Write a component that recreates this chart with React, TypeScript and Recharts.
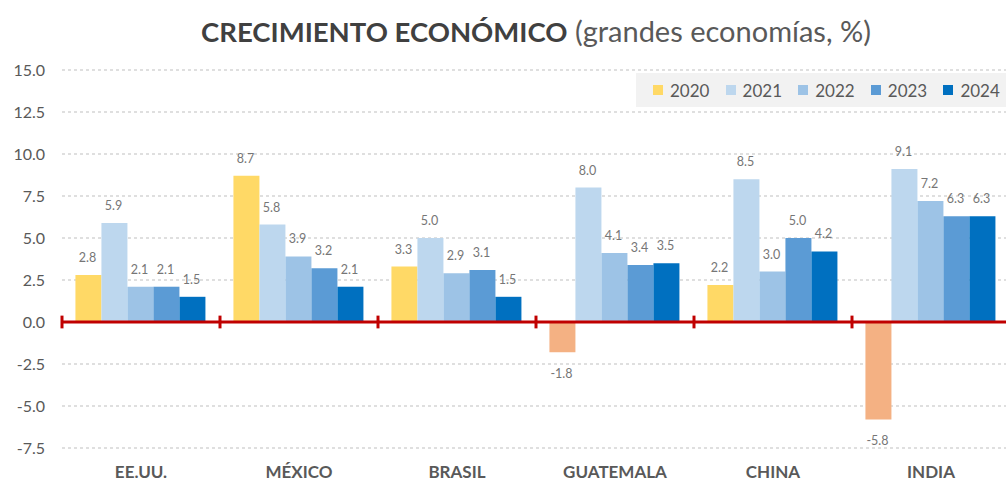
import { BarChart, Bar, XAxis, YAxis, CartesianGrid, Cell, LabelList, Legend, ReferenceLine } from "recharts"

const categories = ["EE.UU.", "MÉXICO", "BRASIL", "GUATEMALA", "CHINA", "INDIA"]
const years = ["2020", "2021", "2022", "2023", "2024"]
const g2020 = [2.8, 8.7, 3.3, -1.8, 2.2, -5.8]
const g2021 = [5.9, 5.8, 5.0, 8.0, 8.5, 9.1]
const g2022 = [2.1, 3.9, 2.9, 4.1, 3.0, 7.2]
const g2023 = [2.1, 3.2, 3.1, 3.4, 5.0, 6.3]
const g2024 = [1.5, 2.1, 1.5, 3.5, 4.2, 6.3]
const yTicks = [-7.5, -5, -2.5, 0, 2.5, 5, 7.5, 10, 12.5, 15]

const COLORS = ["#FFD966", "#BDD7EE", "#9DC3E6", "#5B9BD5", "#0070C0"]
const NEG = "#F4B183"
const FONT = "Lato, 'Open Sans', sans-serif"
const GREY = "#595959"

const series = [g2020, g2021, g2022, g2023, g2024]
const data = categories.map((name, i) => {
    const row: Record<string, string | number> = { name }
    years.forEach((y, k) => { row[y] = series[k][i] })
    return row
})

const ValueLabel = (props: any) => {
    const { x, y, width, height, value } = props
    if (value == null) return null
    const top = Math.min(y, y + height)
    const bottom = Math.max(y, y + height)
    const ty = value < 0 ? bottom + 26 : top - 13
    return (
        <text x={x + width / 2 - 1} y={ty} textAnchor="middle" fontSize={12.5} fill="#767676" fontFamily={FONT}>
            {Number(value).toFixed(1)}
        </text>
    )
}

const LegendBox = (props: any) => {
    const items = props.payload ?? []
    return (
        <div style={{ background: "#F2F2F2", height: 34, display: "flex", alignItems: "center", paddingLeft: 17, fontFamily: FONT }}>
            {items.map((it: any) => (
                <div key={it.value} style={{ display: "flex", alignItems: "center", width: 74 }}>
                    <span style={{ width: 10, height: 10, background: it.color, marginRight: 7, display: "inline-block" }} />
                    <span style={{ fontSize: 17, color: GREY }}>{it.value}</span>
                </div>
            ))}
        </div>
    )
}

export default function App() {
    return (
        <div style={{ position: "absolute", left: 0, top: 0, width: 1006, height: 484, overflow: "hidden", background: "#fff" }}>
            <div style={{ position: "absolute", left: 62, top: 13, width: 948, textAlign: "center", fontFamily: FONT, lineHeight: "36px", whiteSpace: "nowrap" }}>
                <span style={{ fontWeight: 700, color: "#404040", fontSize: 27.5 }}>CRECIMIENTO ECONÓMICO</span>
                <span style={{ color: GREY, fontSize: 29 }}> (grandes economías, %)</span>
            </div>
            <BarChart width={1010} height={484} data={data} margin={{ top: 70, right: 0, left: 0, bottom: 0 }} barCategoryGap="8.5%" barGap={0}>
                <CartesianGrid vertical={false} stroke="#BFBFBF" strokeDasharray="3 3" />
                <XAxis dataKey="name" axisLine={false} tickLine={false} height={36} tickMargin={12}
                    tick={{ fontSize: 17, fontWeight: 700, fill: GREY, fontFamily: FONT }} />
                <YAxis domain={[-7.5, 15]} ticks={yTicks} width={62} axisLine={false} tickLine={false} tickMargin={11}
                    tickFormatter={(v: number) => v.toFixed(1)} tick={{ fontSize: 16, fill: GREY, fontFamily: FONT }} />
                <Legend layout="horizontal" verticalAlign="middle" align="center" content={<LegendBox />}
                    wrapperStyle={{ position: "absolute", top: 73, left: 636, width: 380 }} />
                {years.map((y, k) => (
                    <Bar key={y} dataKey={y} name={y} fill={COLORS[k]} isAnimationActive={false}>
                        {k === 0 && data.map((d, i) => (
                            <Cell key={i} fill={(d[y] as number) < 0 ? NEG : COLORS[0]} />
                        ))}
                        <LabelList dataKey={y} content={<ValueLabel />} />
                    </Bar>
                ))}
                <ReferenceLine y={0} stroke="#C00000" strokeWidth={3} />
                {categories.map((c) => (
                    <ReferenceLine key={c} segment={[{ x: c, y: -0.38 }, { x: c, y: 0.38 }]} position="start" stroke="#C00000" strokeWidth={3} />
                ))}
                <ReferenceLine segment={[{ x: "INDIA", y: -0.38 }, { x: "INDIA", y: 0.38 }]} position="end" stroke="#C00000" strokeWidth={3} />
            </BarChart>
        </div>
    )
}
